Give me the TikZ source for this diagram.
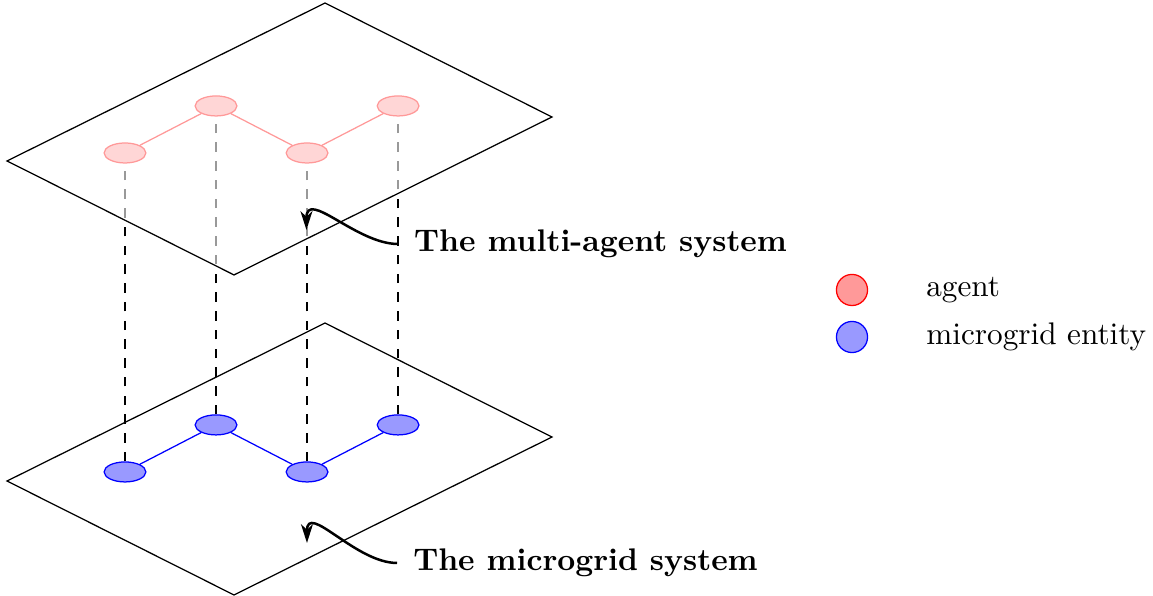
\documentclass[tikz,border=0pt]{standalone}
\usepackage{amsmath}
\usetikzlibrary{arrows.meta,positioning,shapes.geometric}

\tikzset{
  agent/.style={ellipse, draw=red, fill=red!40, minimum width=0.47cm, minimum height=0.225cm, inner sep=0pt},
  entity/.style={ellipse, draw=blue, fill=blue!40, minimum width=0.47cm, minimum height=0.225cm, inner sep=0pt},
  legendmark/.style={circle, minimum size=0.35cm, inner sep=0pt},
  layertext/.style={font=\bfseries, inner xsep=5pt, anchor=west}
}

\begin{document}
\begin{tikzpicture}[>={Stealth[length=6pt,width=3.8pt,inset=1.8pt]}, node distance=0.53cm]
  \useasboundingbox (0,0) rectangle (12.97,6.704);
  % microgrid layer
  \draw (0.079,1.293) -- (2.632,0.011) -- (6.209,1.788) -- (3.656,3.070) -- cycle;
  \node[entity] (b1) at (1.406,1.395) {};
  \node[entity, on grid] (b2) [above right=0.529cm and 1.024cm of b1] {};
  \node[entity, on grid] (b3) [right=2.048cm of b1] {};
  \node[entity, on grid] (b4) [right=2.048cm of b2] {};
  \path[blue]
    (b1) edge (b2)
    (b2) edge (b3)
    (b3) edge (b4);
  % agents
  \node[agent, on grid] (t1) [above=3.588cm of b1] {};
  \node[agent, on grid] (t2) [above=3.588cm of b2] {};
  \node[agent, on grid] (t3) [above=3.588cm of b3] {};
  \node[agent, on grid] (t4) [above=3.588cm of b4] {};
  \path[red]
    (t1) edge (t2)
    (t2) edge (t3)
    (t3) edge (t4);
  \path[dashed]
    (b1) edge (t1)
    (b2) edge (t2)
    (b3) edge (t3)
    (b4) edge (t4);
  % multi-agent layer (half transparent)
  \draw[fill=white, fill opacity=0.6] (0.079,4.893) -- (2.632,3.611) -- (6.209,5.388) -- (3.656,6.670) -- cycle;
  % layer names
  \coordinate (maTip) at (3.447,4.117);
  \coordinate (mgTip) at (3.453,0.596);
  \node[layertext] (maLabel) at (4.477,3.959) {The multi-agent system};
  \node[layertext] (mgLabel) at (4.466,0.371) {The microgrid system};
  \draw[->, thick] (maLabel.west) to[out=180, in=90, looseness=1.15] (maTip);
  \draw[->, thick] (mgLabel.west) to[out=180, in=90, looseness=1.15] (mgTip);
  % legend
  \node[legendmark, draw=red, fill=red!40] (legAgent) at (9.584,3.442) {};
  \node[legendmark, draw=blue, fill=blue!40, on grid] (legEntity) [below=0.529cm of legAgent] {};
  \node (legAgentText) [right=of legAgent] {agent};
  \node (legEntityText) [right=of legEntity] {microgrid entity};
\end{tikzpicture}
\end{document}
